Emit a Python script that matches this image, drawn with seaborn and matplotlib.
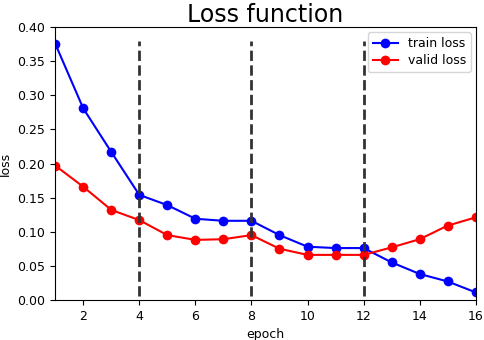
import matplotlib
matplotlib.use("Agg")
import matplotlib.pyplot as plt
import seaborn as sns
import pandas as pd

epochs = list(range(1, 17))
train_loss = [0.376, 0.281, 0.217, 0.154, 0.139, 0.119, 0.116, 0.116,
              0.095, 0.078, 0.076, 0.076, 0.055, 0.038, 0.027, 0.011]
valid_loss = [0.197, 0.166, 0.132, 0.117, 0.095, 0.088, 0.089, 0.095,
              0.075, 0.066, 0.066, 0.066, 0.077, 0.089, 0.109, 0.121]
stage_epochs = [4, 8, 12]

df = pd.DataFrame({"epoch": epochs, "train loss": train_loss, "valid loss": valid_loss})

fig = plt.figure(figsize=(4.84, 3.4), dpi=100)
ax = fig.add_axes([0.114, 0.118, 0.869, 0.802])

sns.lineplot(data=df, x="epoch", y="train loss", color="blue", marker="o",
             markersize=7, markeredgewidth=0, label="train loss", ax=ax)
sns.lineplot(data=df, x="epoch", y="valid loss", color="red", marker="o",
             markersize=7, markeredgewidth=0, label="valid loss", ax=ax)

# lignes verticales pour les étapes
for e in stage_epochs:
    ax.vlines(e, 0.005, 0.38, colors="#333333", linestyles="--", linewidth=2)

ax.set_xlim(1, 16)
ax.set_ylim(0, 0.4)
ax.set_xticks(range(2, 17, 2))
ax.set_yticks([0.0, 0.05, 0.1, 0.15, 0.2, 0.25, 0.3, 0.35, 0.4])
ax.yaxis.set_major_formatter(matplotlib.ticker.FormatStrFormatter("%.2f"))
ax.tick_params(labelsize=9)
ax.set_xlabel("epoch", fontsize=9)
ax.set_ylabel("loss", fontsize=9)
ax.set_title("Loss function", fontsize=17, pad=3)
ax.legend(loc="upper right", fontsize=9, labelspacing=0.3, borderaxespad=0.4)

fig.savefig("out.png", dpi=100)
